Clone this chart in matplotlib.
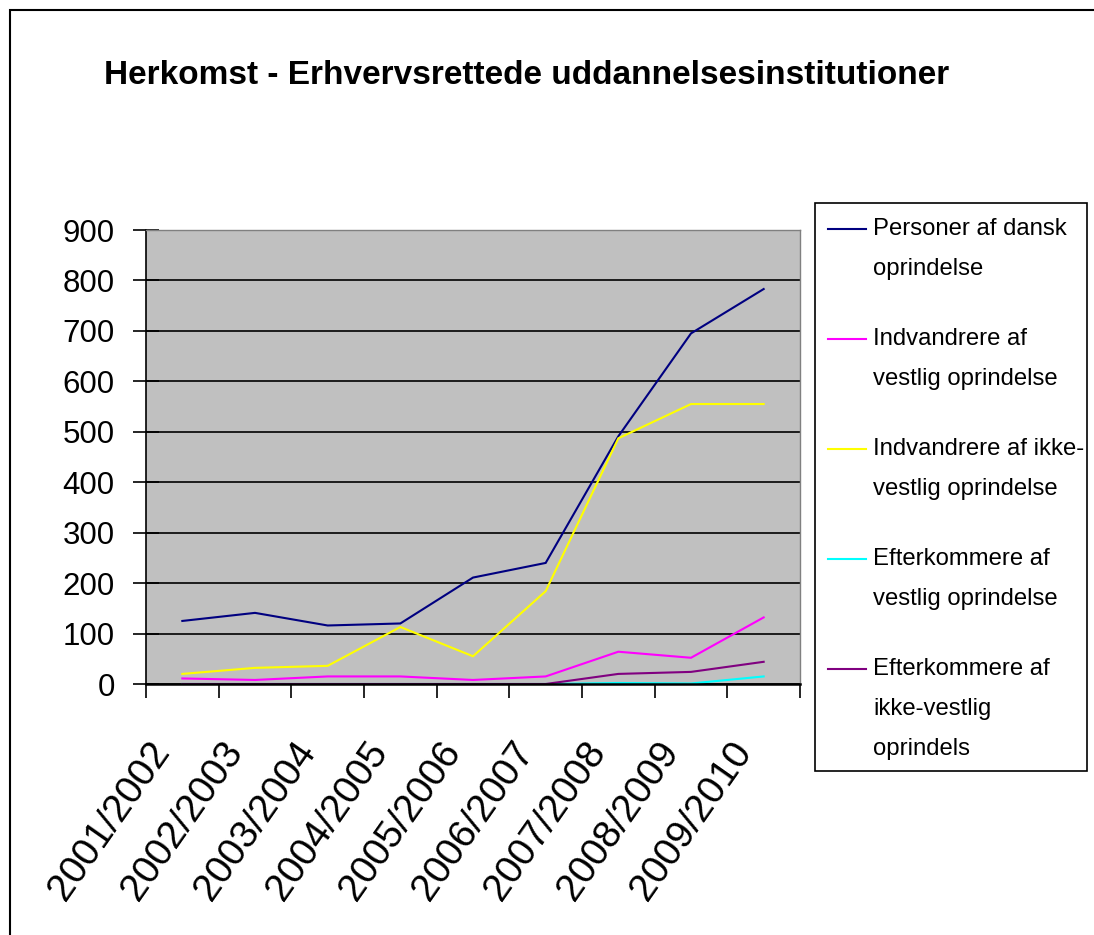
import matplotlib
matplotlib.use("Agg")
import matplotlib.pyplot as plt
from matplotlib import font_manager as fm
from matplotlib.patches import Rectangle
from matplotlib.lines import Line2D

# ---------------- data ----------------
categories = ['2001/2002', '2002/2003', '2003/2004', '2004/2005', '2005/2006',
              '2006/2007', '2007/2008', '2008/2009', '2009/2010']
dansk = [125, 141, 116, 120, 211, 240, 491, 695, 783]
indv_vestlig = [11, 8, 15, 15, 8, 15, 64, 52, 132]
indv_ikke_vestlig = [20, 32, 36, 113, 55, 184, 487, 555, 555]
efterk_vestlig = [0, 0, 0, 0, 0, 0, 2, 1, 15]
efterk_ikke_vestlig = [0, 0, 0, 0, 0, 0, 20, 24, 44]

series_labels = [
    ['Personer af dansk', 'oprindelse'],
    ['Indvandrere af', 'vestlig oprindelse'],
    ['Indvandrere af ikke-', 'vestlig oprindelse'],
    ['Efterkommere af', 'vestlig oprindelse'],
    ['Efterkommere af', 'ikke-vestlig', 'oprindels'],
]
series_colors = ['#000080', '#FF00FF', '#FFFF00', '#00FFFF', '#800080']
y_ticks = [0, 100, 200, 300, 400, 500, 600, 700, 800, 900]
title = 'Herkomst - Erhvervsrettede uddannelsesinstitutioner'

# ---------------- fonts ----------------
names = {f.name for f in fm.fontManager.ttflist}
has_narrow = 'Liberation Sans Narrow' in names
base = 'Liberation Sans' if 'Liberation Sans' in names else 'DejaVu Sans'
if has_narrow:
    title_font = dict(family='Liberation Sans Narrow', size=29, weight='bold')
    legend_font = dict(family='Liberation Sans Narrow', size=21.5)
else:
    title_font = dict(family=base, size=24, weight='bold')
    legend_font = dict(family=base, size=17.2)

W, H = 1094, 935
fig = plt.figure(figsize=(W / 100, H / 100), dpi=100)
fig.patch.set_facecolor('white')

# outer border
fig.add_artist(Rectangle((10 / W, -0.02), 1.05, 1 - 10 / H + 0.02,
                         transform=fig.transFigure, fill=False,
                         edgecolor='black', linewidth=1.5))

ax = fig.add_axes([146 / W, 1 - 684 / H, (800 - 146) / W, (684 - 230) / H])
ax.set_facecolor('#C0C0C0')

x = list(range(len(categories)))
all_series = [dansk, indv_vestlig, indv_ikke_vestlig, efterk_vestlig, efterk_ikke_vestlig]
lines = []
for vals, col in zip(all_series, series_colors):
    ln, = ax.plot(x, vals, color=col, linewidth=1.5, solid_joinstyle='miter', zorder=3)
    lines.append(ln)

ax.set_xlim(-0.5, len(categories) - 0.5)
ax.set_ylim(0, 900)

# gridlines
ax.set_yticks(y_ticks)
ax.set_yticklabels([str(v) for v in y_ticks], fontfamily=base, fontsize=22.5)
ax.yaxis.grid(True, color='black', linewidth=1.2, zorder=1)
ax.set_axisbelow(True)
ax.tick_params(axis='y', direction='inout', length=19, width=1.2, pad=13)

# x: major ticks at boundaries, labels near the centers (minor)
ax.set_xticks([i - 0.5 for i in range(len(categories) + 1)])
ax.set_xticklabels([])
ax.tick_params(axis='x', which='major', direction='out', length=10, width=1.2)
ax.set_xticks([i - 0.27 for i in x], minor=True)
ax.set_xticklabels(categories, minor=True, fontfamily=base, fontsize=28)
ax.tick_params(axis='x', which='minor', length=0, pad=44.5)
for lbl in ax.get_xticklabels(minor=True):
    lbl.set_rotation(55)
    lbl.set_rotation_mode('anchor')
    lbl.set_ha('right')
    lbl.set_va('center')

for s in ['top', 'right']:
    ax.spines[s].set_color('#808080')
    ax.spines[s].set_linewidth(1.0)
ax.spines['left'].set_color('black')
ax.spines['left'].set_linewidth(1.2)
ax.spines['bottom'].set_color('black')
ax.spines['bottom'].set_linewidth(1.8)
ax.spines['bottom'].set_zorder(4)

# title
fig.text(527 / W, 1 - 84 / H, title, ha='center', va='baseline', color='black', **title_font)

# manual legend
lx0, lx1, ly0, ly1 = 815, 1087, 203, 771
fig.add_artist(Rectangle((lx0 / W, 1 - ly1 / H), (lx1 - lx0) / W, (ly1 - ly0) / H,
                         transform=fig.transFigure, facecolor='white',
                         edgecolor='black', linewidth=1.2))
for i, (lab, ln) in enumerate(zip(series_labels, lines)):
    base_y = 235 + 110 * i
    fig.add_artist(Line2D([828 / W, 866 / W], [1 - (base_y - 6) / H] * 2,
                          transform=fig.transFigure, color=ln.get_color(),
                          linewidth=1.5))
    for j, line_txt in enumerate(lab):
        fig.text(873 / W, 1 - (base_y + 40 * j) / H, line_txt, ha='left',
                 va='baseline', color='black', **legend_font)

fig.savefig('out.png', dpi=100, facecolor='white')
